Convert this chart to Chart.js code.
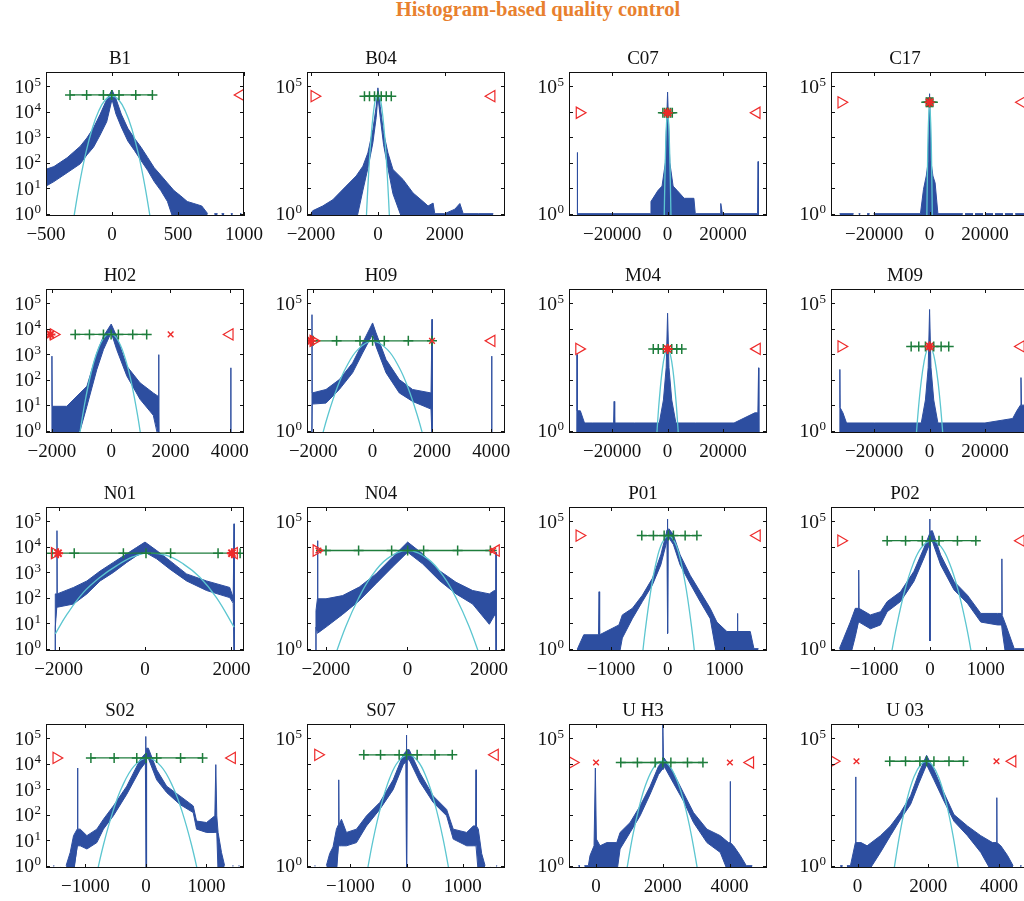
<!DOCTYPE html>
<html>
<head>
<meta charset="utf-8">
<title>Histogram-based quality control</title>
<script src="https://cdn.jsdelivr.net/npm/chart.js@4.4.1/dist/chart.umd.min.js"></script>
<style>
  body { margin: 0; background: #fff; }
  #page { position: relative; width: 1024px; height: 901px; overflow: hidden; }
  #head { position: absolute; left: 0; top: -3px; width: 1076px; text-align: center;
          font: bold 20.5px/24px 'Liberation Serif', serif; color: #e8802e; }
  canvas { position: absolute; }
</style>
</head>
<body>
<div id="page"><div id="head">Histogram-based quality control</div></div>
<script>
// zero counts can't sit on a log axis, they are drawn just under it
const FLOOR = 0.5;
const YMIN = 0.81, YMAX = 355000;

// x tick sets
const ticksB1 = [-500, 0, 500, 1000];
const ticks2k = [-2000, 0, 2000];
const ticks4k = [-2000, 0, 2000, 4000];
const ticks20k = [-20000, 0, 20000];
const ticks1k = [-1000, 0, 1000];
const ticksU = [0, 2000, 4000];

// B1
const b1X  = [-500, -440, -340, -240, -190, -140, -90, -40, 0, 30, 70, 120, 170, 220, 270, 320, 370, 420, 470, 520, 570, 620, 680, 725, 750, 775, 800, 815, 830, 850, 870, 900, 915, 940, 970, 980];
const b1Hi = [55, 70, 155, 440, 930, 2300, 7800, 30000, 70000, 32000, 8000, 2200, 900, 400, 160, 63, 32, 16, 8, 5, 3, 2.5, 2, 1, null, 1, 1, null, 1, 1, null, 1, 1, null, 1, 1];
const b1Lo = [12, 18, 40, 90, 200, 400, 1200, 4000, 30000, 8000, 2500, 700, 300, 120, 50, 18, 8, 3, 0, 0, 0, 0, 0, 0, null, 0, 0, null, 0, 0, null, 0, 0, null, 0, 0];
const b1FitX = [-300, -250, -200, -150, -100, -50, 0, 50, 100, 150, 200, 250, 300];
const b1FitY = [0.32, 11.5, 218, 2130, 10700, 29000, 40000, 29000, 10700, 2130, 218, 11.5, 0.32];
const b1Marks = [-318, -192, -65, -2, 53, 180, 306];
const b1Level = 45000;
const b1Red = [[975, '◁']];

// B04
const b04X  = [-2000, -1950, -1650, -1350, -950, -650, -450, -300, -150, -50, 0, 70, 170, 300, 450, 750, 1050, 1350, 1500, 1650, 1700, 2000, 2300, 2450, 2550, 3000, 3450];
const b04Hi = [1, 1.3, 2, 3.5, 12, 30, 72, 240, 2000, 16000, 85000, 16000, 1500, 240, 54, 22, 6.5, 3, 2, 2.6, 1, 1, 1.5, 2.5, 1, 1, 1];
const b04Lo = [0, 0, 0, 0, 0, 0, 8, 60, 600, 6000, 40000, 6000, 500, 60, 6, 0, 0, 0, 0, 0, 0, 0, 0, 0, 0, 0, 0];
const b04FitX = [-360, -340, -300, -250, -200, -150, -100, -50, 0, 50, 100, 150, 200, 250, 300, 340, 360];
const b04FitY = [0.27, 1, 11, 145, 1200, 6000, 19600, 38000, 45000, 38000, 19600, 6000, 1200, 145, 11, 1, 0.27];
const b04Marks = [-402, -252, -102, -2, 100, 250, 400];
const b04Level = 40000;
const b04Red = [[-1901, '▷'], [3400, '◁']];

// C07
const c07X  = [-32700, -32600, -32500, -6200, -6000, -3500, -2000, -800, 0, 800, 2000, 3500, 6000, 9500, 10000, 19000, 19200, 19800, 32500, 32700, 32800];
const c07Hi = [0, 250, 1, 1, 3, 8, 12, 100, 58000, 100, 12, 8, 4, 4, 1, 1, 2.5, 1, 1, 110, 0];
const c07FitX = [-1250, -1000, -700, -400, 0, 400, 700, 1000, 1250];
const c07FitY = [0.45, 16, 400, 3200, 9000, 3200, 400, 16, 0.45];
const c07Marks = [-1700, -1100, -400, 0, 400, 1100, 1700];
const c07Level = 9000;
const c07Red = [[-31800, '▷'], [0, '*'], [32200, '◁']];

// C17
const c17X  = [-32490, -27430, -26500, -25620, -25000, -23500, -22580, -21640, -21000, -20200, -3300, -2200, -1200, -500, 0, 500, 1200, 2000, 3000, 12000, 12360, 12800, 15700, 15980, 16400, 19300, 19600, 20000, 22900, 23220, 23600, 26500, 26840, 27200, 30100, 30460, 30900, 35900];
const c17Hi = [1, 1, null, 1, 1, null, 1, 1, null, 1, 1, 9, 30, 110, 50000, 110, 30, 16, 1, 1, null, 1, 1, null, 1, 1, null, 1, 1, null, 1, 1, null, 1, 1, null, 1, 1];
const c17FitX = [-1000, -800, -500, 0, 500, 800, 1000];
const c17FitY = [0.66, 29, 1700, 23000, 1700, 29, 0.66];
const c17Marks = [-1200, -800, -300, 0, 300, 800, 1200];
const c17Level = 23000;
const c17Red = [[-31900, '▷'], [0, '*'], [33400, '◁']];

// H02
const h02X  = [-2010, -2000, -1990, -1500, -1050, -820, -485, -262, 0, 185, 525, 972, 1420, 1590, 1600, 1610, 3000, 4030, 4035, 4040];
const h02Hi = [0, 830, 9, 9, 30, 55, 1100, 5000, 15000, 5000, 340, 75, 30, 22, 950, 0, null, 0, 290, 0];
const h02Lo = [0, 0, 0, 0, 1, 9, 250, 1500, 7000, 1500, 140, 17, 4, 0, 0, 0, null, 0, 0, 0];
const h02FitX = [-1100, -900, -700, -500, -250, 0, 250, 500, 700, 900, 1050];
const h02FitY = [0.39, 10.6, 145, 1000, 4300, 6300, 3100, 530, 60, 3.4, 0.25];
const h02Marks = [-1214, -733, -262, -3, 242, 726, 1197];
const h02Level = 5900;
const h02Red = [[-2050, '*'], [-1944, '▷'], [2005, '×'], [4000, '◁']];

// H09
const h09X  = [-2050, -2042, -2035, -1570, -1122, -674, -337, 0, 115, 452, 900, 1348, 1968, 2001, 2010, 3000, 4000, 4010, 4020];
const h09Hi = [0, 35000, 30, 41, 100, 450, 2750, 16600, 6800, 610, 100, 41, 30, 23000, 0, null, 0, 830, 0];
const h09Lo = [0, 0, 11, 12, 41, 185, 1100, 6000, 2000, 185, 30, 14, 7, 0, 0, null, 0, 0, 0];
const h09FitX = [-1750, -1500, -1200, -900, -500, 0, 500, 900, 1200, 1500, 1750];
const h09FitY = [0.39, 4.2, 46, 290, 1500, 3200, 1500, 290, 46, 4.2, 0.39];
const h09Marks = [-2000, -1212, -424, 0, 394, 1203, 2000];
const h09Level = 3300;
const h09Red = [[-2075, '*'], [-1998, '▷'], [2001, '×'], [4010, '◁']];

// M04
const m04X  = [-32800, -32690, -32600, -31500, -30000, -27000, -19500, -19300, -19100, -12000, -3000, -1500, -500, 0, 500, 1500, 3000, 10000, 24000, 31500, 32600, 32860, 32950];
const m04Hi = [0, 960, 6, 6, 2, 2, 2, 14, 2, 2, 2, 16, 300, 40000, 300, 16, 2, 2, 2, 5, 5, 290, 0];
const m04FitX = [-4000, -3500, -3000, -2000, -1000, 0, 1000, 2000, 3000, 3500, 4000];
const m04FitY = [0.45, 3.1, 16, 205, 950, 1600, 950, 205, 16, 3.1, 0.45];
const m04Marks = [-5170, -3360, -1550, 50, 1500, 3310, 5120];
const m04Level = 1600;
const m04Red = [[-31970, '▷'], [0, '*'], [32290, '◁']];

// M09
const m09X  = [-32500, -32400, -32300, -31300, -30000, -20000, -3000, -1500, -500, 0, 500, 1500, 3000, 20000, 30000, 31500, 32800, 33000, 33200, 35900];
const m09Hi = [0, 250, 8, 5, 2, 2, 2, 16, 300, 56000, 300, 16, 2, 2, 3, 6, 10, 120, 10, 10];
const m09FitX = [-4900, -4000, -3000, -2000, -1000, 0, 1000, 2000, 3000, 4000, 4900];
const m09FitY = [0.5, 8, 90, 500, 1400, 2000, 1400, 500, 90, 8, 0.5];
const m09Marks = [-6650, -3910, -1500, 50, 1500, 4170, 6910];
const m09Level = 2000;
const m09Red = [[-31900, '▷'], [0, '*'], [33000, '◁']];

// N01
const n01X  = [-2080, -2075, -2040, -2036, -2030, -1654, -1344, -1038, -731, -422, -192, 0, 270, 576, 961, 1423, 1960, 2040, 2055, 2060, 2065];
const n01Hi = [0, 140, 140, 42000, 140, 250, 450, 1100, 2400, 5200, 9300, 15000, 7000, 2800, 850, 450, 250, 100, 100, 78000, 0];
const n01Lo = [0, 7, 42, 42, 42, 56, 140, 450, 970, 2400, 4400, 6000, 3300, 1300, 450, 190, 100, 60, 60, 0, 0];
const n01FitX = [-2075, -1806, -1423, -1038, -653, -269, 38, 500, 884, 1269, 1653, 2060];
const n01FitY = [3.8, 22, 160, 630, 1800, 4000, 5500, 4500, 2100, 630, 100, 7];
const n01Marks = [-2150, -1637, -500, 23, 592, 1690, 2200];
const n01Level = 5500;
const n01Red = [[-2090, '▷'], [-2010, '*'], [2010, '*'], [2060, '◁']];

// N04
const n04X  = [-2245, -2240, -2205, -2200, -2195, -1995, -1588, -1179, -770, -363, 5, 372, 781, 1190, 1597, 2006, 2130, 2165, 2170, 2175];
const n04Hi = [0, 31, 90, 17000, 90, 90, 120, 260, 850, 3900, 15000, 5200, 1150, 400, 190, 140, 190, 190, 6000, 0];
const n04Lo = [0, 7, 4, 4, 4, 7, 22, 76, 350, 1600, 6000, 2100, 470, 140, 56, 9, 20, 20, 0, 0];
const n04FitX = [-1800, -1500, -1200, -900, -500, 0, 500, 900, 1200, 1500, 1800];
const n04FitY = [0.4, 8, 92, 620, 3300, 7000, 3300, 620, 92, 8, 0.4];
const n04Marks = [-1995, -1196, -387, 5, 397, 1230, 2031];
const n04Span = [-2240, 2190];
const n04Level = 7000;
const n04Red = [[-2230, '▷'], [-2180, '×'], [2100, '×'], [2170, '◁']];

// P01
const p01X  = [-1600, -1590, -1480, -1220, -1210, -1200, -860, -800, -623, -446, -270, -122, -30, -10, -5, 0, 5, 20, 100, 219, 396, 572, 749, 867, 1043, 1225, 1230, 1235, 1455, 1520, 1600];
const p01Hi = [1, 1, 3.5, 3.5, 170, 3.5, 8.5, 21, 38, 125, 570, 4700, 30000, 45000, 120000, 4, 45000, 50000, 29000, 4700, 750, 170, 38, 11, 4.7, 4.7, 24, 4.7, 4.7, 1, 1];
const p01Lo = [0, 0, 0, 0, 0, 0, 0, 2.6, 15, 70, 315, 1900, 12000, 20000, 20000, 4, 20000, 22000, 12000, 1900, 350, 70, 15, 0, 0, 0, 0, 0, 0, 0, 0];
const p01FitX = [-470, -400, -300, -200, -100, 16, 130, 230, 330, 430, 500];
const p01FitY = [0.18, 4.4, 176, 2600, 13700, 27000, 14000, 2700, 190, 4.8, 0.2];
const p01Marks = [-457, -252, -63, 12, 100, 307, 514];
const p01Level = 27000;
const p01Red = [[-1558, '▷'], [1573, '◁']];

// P02
const p02X  = [-1620, -1545, -1425, -1335, -1280, -1274, -1268, -1065, -885, -765, -526, -287, -108, -10, -4, 0, 6, 43, 192, 431, 670, 910, 1209, 1281, 1287, 1293, 1358, 1508, 1700];
const p02Hi = [1, 2.5, 11, 38, 38, 1200, 38, 21, 28, 70, 170, 1070, 8700, 30000, 120000, 2, 40000, 42000, 4700, 430, 125, 24, 24, 24, 3300, 20, 8.5, 1, 1];
const p02Lo = [0, 0, 0, 3, 11, 11, 11, 6, 8.5, 28, 70, 430, 3500, 12000, 12000, 2, 16000, 16000, 1900, 200, 60, 11, 8.5, 8.5, 8.5, 5, 0, 0, 0];
const p02FitX = [-720, -600, -450, -300, -150, 28, 200, 350, 500, 650, 770];
const p02FitY = [0.27, 7, 190, 2100, 9300, 17000, 9700, 2200, 210, 8, 0.3];
const p02Marks = [-765, -436, -136, 0, 162, 492, 821];
const p02Level = 17000;
const p02Red = [[-1590, '▷'], [1628, '◁']];

// S02
const s02X  = [-1530, -1515, -1500, -1420, -1405, -1390, -1320, -1252, -1197, -1137, -1131, -1125, -1087, -976, -812, -703, -538, -317, -98, -10, -3, 3, 10, 39, 177, 342, 561, 781, 836, 1001, 1138, 1154, 1170, 1192, 1248, 1300, 1400, 1430, 1445, 1480, 1530, 1545];
const s02Hi = [1, 1, null, 1, 1, null, 1, 3.3, 15, 27, 6700, 27, 27, 15, 27, 66, 220, 1300, 14000, 25000, 115000, 0, 40000, 40000, 5700, 1300, 540, 220, 56, 49, 90, 9100, 90, 20, 3.3, 1, null, 1, 1, null, 1, 1];
const s02Lo = [0, 0, null, 0, 0, null, 0, 0, 0, 6, 6, 6, 6, 4.5, 8, 27, 90, 630, 5700, 11000, 11000, 0, 16000, 16000, 2300, 730, 250, 120, 27, 20, 20, 20, 20, 0, 0, 0, null, 0, 0, null, 0, 0];
const s02FitX = [-830, -700, -550, -400, -200, 25, 250, 450, 600, 750, 880];
const s02FitY = [0.33, 6.9, 125, 1150, 7800, 16600, 7800, 1150, 125, 6.9, 0.33];
const s02Marks = [-910, -526, -152, 1, 177, 572, 935];
const s02Level = 16600;
const s02Red = [[-1482, '▷'], [1423, '◁']];

// S07
const s07X  = [-1640, -1625, -1610, -1560, -1545, -1500, -1430, -1370, -1311, -1250, -1215, -1209, -1203, -1161, -1072, -893, -714, -477, -239, -60, -10, -3, 3, 10, 47, 238, 475, 714, 832, 1072, 1190, 1232, 1238, 1244, 1279, 1339, 1400, 1450, 1490, 1505, 1540, 1600, 1615];
const s07Hi = [1, 1, null, 1, 1, null, 1, 3, 5.4, 27, 40, 2300, 40, 66, 20, 27, 90, 300, 2300, 22000, 30000, 130000, 0, 35000, 35000, 4300, 540, 160, 27, 20, 36, 36, 5700, 36, 27, 3, 1, null, 1, 1, null, 1, 1];
const s07Lo = [0, 0, null, 0, 0, null, 0, 0, 0, 0, 6, 6, 6, 6, 6, 8, 36, 160, 950, 9000, 12000, 12000, 0, 14000, 14000, 1900, 300, 90, 11, 6, 6, 6, 6, 6, 0, 0, 0, null, 0, 0, null, 0, 0];
const s07FitX = [-730, -600, -450, -300, -150, 29, 200, 350, 500, 650, 790];
const s07FitY = [0.27, 9.4, 245, 2700, 12000, 22000, 12600, 2950, 290, 11.5, 0.26];
const s07Marks = [-762, -464, -132, 0, 189, 506, 815];
const s07Level = 22000;
const s07Red = [[-1579, '▷'], [1577, '◁']];

// U H3
const uh3X  = [-530, -480, -450, -350, -300, -230, -180, -60, -21, 10, 120, 321, 621, 720, 1020, 1320, 1620, 1870, 1980, 2000, 2020, 2040, 2319, 2619, 2919, 3321, 3720, 3969, 4015, 4020, 4025, 4119, 4320, 4500, 4680];
const uh3Hi = [1, 1, null, 1, 1, 1, 2.5, 6, 6700, 11, 6, 8, 8, 20, 49, 220, 1300, 7800, 12000, 340000, 14000, 16600, 4300, 710, 120, 27, 15, 8, 8, 2000, 8, 6, 2.5, 1, 1];
const uh3Lo = [0, 0, null, 0, 0, 0, 0, 0, 0, 0, 0, 0, 0, 4.5, 20, 90, 630, 3700, 6000, 6000, 6000, 7800, 1700, 340, 49, 8, 3.3, 0, 0, 0, 0, 0, 0, 0, 0];
const uh3FitX = [900, 1100, 1300, 1500, 1750, 1980, 2200, 2450, 2650, 2850, 3060];
const uh3FitY = [0.49, 15, 220, 1650, 7800, 12300, 8100, 1800, 250, 17, 0.49];
const uh3Marks = [741, 1239, 1770, 2001, 2241, 2739, 3201];
const uh3Level = 11000;
const uh3Red = [[-699, '▷'], [0, '×'], [4009, '×'], [4620, '◁']];

// U 03
const u03X  = [-490, -420, -380, -300, -200, -60, -52, -45, 100, 271, 649, 932, 1216, 1500, 1735, 1954, 2161, 2445, 2728, 3108, 3486, 3818, 3935, 3940, 3945, 4053, 4243, 4400, 4440, 4600, 4640];
const u03Hi = [1, 1, null, 1, 1, 8, 3000, 8, 8, 6, 15, 36, 120, 540, 4300, 21000, 5700, 710, 100, 36, 15, 8, 8, 460, 8, 6, 2.5, 1, null, 1, 1];
const u03Lo = [0, 0, null, 0, 0, 0, 0, 0, 0, 0, 3.3, 15, 66, 250, 1700, 9000, 2300, 340, 55, 15, 3.3, 0, 0, 0, 0, 0, 0, 0, null, 0, 0];
const u03FitX = [1000, 1200, 1400, 1600, 1800, 1944, 2100, 2300, 2500, 2700, 2890];
const u03FitY = [0.37, 19, 390, 3100, 9600, 12300, 9300, 2800, 330, 15.5, 0.36];
const u03Marks = [912, 1358, 1764, 1954, 2161, 2587, 2996];
const u03Level = 12300;
const u03Red = [[-676, '▷'], [-30, '×'], [3930, '×'], [4385, '◁']];

const panels = [
  { name: 'B1',   x: b1X,  hi: b1Hi,  lo: b1Lo,  fitX: b1FitX,  fitY: b1FitY,  marks: b1Marks,  level: b1Level,  red: b1Red,  range: [-500, 1000],    ticks: ticksB1 },
  { name: 'B04',  x: b04X, hi: b04Hi, lo: b04Lo, fitX: b04FitX, fitY: b04FitY, marks: b04Marks, level: b04Level, red: b04Red, range: [-2120, 3800],   ticks: ticks2k },
  { name: 'C07',  x: c07X, hi: c07Hi,            fitX: c07FitX, fitY: c07FitY, marks: c07Marks, level: c07Level, red: c07Red, range: [-35600, 35900], ticks: ticks20k },
  { name: 'C17',  x: c17X, hi: c17Hi,            fitX: c17FitX, fitY: c17FitY, marks: c17Marks, level: c17Level, red: c17Red, range: [-35600, 35900], ticks: ticks20k },
  { name: 'H02',  x: h02X, hi: h02Hi, lo: h02Lo, fitX: h02FitX, fitY: h02FitY, marks: h02Marks, level: h02Level, red: h02Red, range: [-2200, 4480],   ticks: ticks4k },
  { name: 'H09',  x: h09X, hi: h09Hi, lo: h09Lo, fitX: h09FitX, fitY: h09FitY, marks: h09Marks, level: h09Level, red: h09Red, range: [-2210, 4460],   ticks: ticks4k },
  { name: 'M04',  x: m04X, hi: m04Hi,            fitX: m04FitX, fitY: m04FitY, marks: m04Marks, level: m04Level, red: m04Red, range: [-35600, 35900], ticks: ticks20k },
  { name: 'M09',  x: m09X, hi: m09Hi,            fitX: m09FitX, fitY: m09FitY, marks: m09Marks, level: m09Level, red: m09Red, range: [-35600, 35900], ticks: ticks20k },
  { name: 'N01',  x: n01X, hi: n01Hi, lo: n01Lo, fitX: n01FitX, fitY: n01FitY, marks: n01Marks, level: n01Level, red: n01Red, range: [-2290, 2290],   ticks: ticks2k },
  { name: 'N04',  x: n04X, hi: n04Hi, lo: n04Lo, fitX: n04FitX, fitY: n04FitY, marks: n04Marks, level: n04Level, red: n04Red, range: [-2460, 2390],   ticks: ticks2k, span: n04Span },
  { name: 'P01',  x: p01X, hi: p01Hi, lo: p01Lo, fitX: p01FitX, fitY: p01FitY, marks: p01Marks, level: p01Level, red: p01Red, range: [-1740, 1750],   ticks: ticks1k },
  { name: 'P02',  x: p02X, hi: p02Hi, lo: p02Lo, fitX: p02FitX, fitY: p02FitY, marks: p02Marks, level: p02Level, red: p02Red, range: [-1770, 1772],   ticks: ticks1k },
  { name: 'S02',  x: s02X, hi: s02Hi, lo: s02Lo, fitX: s02FitX, fitY: s02FitY, marks: s02Marks, level: s02Level, red: s02Red, range: [-1652, 1620],   ticks: ticks1k },
  { name: 'S07',  x: s07X, hi: s07Hi, lo: s07Lo, fitX: s07FitX, fitY: s07FitY, marks: s07Marks, level: s07Level, red: s07Red, range: [-1775, 1755],   ticks: ticks1k },
  { name: 'U H3', x: uh3X, hi: uh3Hi, lo: uh3Lo, fitX: uh3FitX, fitY: uh3FitY, marks: uh3Marks, level: uh3Level, red: uh3Red, range: [-810, 5120],    ticks: ticksU },
  { name: 'U 03', x: u03X, hi: u03Hi, lo: u03Lo, fitX: u03FitX, fitY: u03FitY, marks: u03Marks, level: u03Level, red: u03Red, range: [-750, 4850],    ticks: ticksU }
];

const BLUE = '#2d4ea0', CYAN = '#5cc6d0', GREEN = '#1e7d3c', RED = '#ee2a2a', INK = '#111';
const SERIF = "'Liberation Serif', 'DejaVu Serif', serif";
const decades = [0, 1, 2, 3, 4, 5];

// page layout of the plot boxes
const colLeft = [46, 307, 569, 831];
const rowTop = [72, 289, 507, 724];
const plotW = 198, plotH = 144;
const AXW = 50, AXH = 35, TOPH = 35, RPAD = 28;

const pts = (xs, ys) => xs.map((x, i) => ({ x, y: ys[i] === null ? null : (ys[i] === 0 ? FLOOR : ys[i]) }));
const fmt = v => (v < 0 ? '\u2212' + Math.abs(v) : String(v));

const redStyle = {
  '▷': { pointStyle: 'triangle', pointRotation: 90, pointRadius: 6.5, pointBorderWidth: 1.2 },
  '◁': { pointStyle: 'triangle', pointRotation: -90, pointRadius: 6.5, pointBorderWidth: 1.2 },
  '×': { pointStyle: 'crossRot', pointRotation: 0, pointRadius: 4, pointBorderWidth: 1.4 },
  '*': { pointStyle: 'star', pointRotation: 0, pointRadius: 5, pointBorderWidth: 2 }
};

// box, inward ticks and the 10^n labels (matlab style)
const framePlugin = {
  id: 'frame',
  afterDraw(chart, args, opts) {
    const { ctx, chartArea: a, scales: { x, y } } = chart;
    ctx.save();
    ctx.strokeStyle = INK;
    ctx.lineWidth = 1;
    ctx.strokeRect(a.left + 0.5, a.top + 0.5, a.right - a.left - 1, a.bottom - a.top - 1);
    ctx.beginPath();
    opts.ticks.forEach(v => {
      const px = Math.round(x.getPixelForValue(v)) + 0.5;
      ctx.moveTo(px, a.bottom); ctx.lineTo(px, a.bottom - 4);
      ctx.moveTo(px, a.top); ctx.lineTo(px, a.top + 4);
    });
    decades.forEach(e => {
      const py = Math.round(y.getPixelForValue(Math.pow(10, e))) + 0.5;
      ctx.moveTo(a.left, py); ctx.lineTo(a.left + 4, py);
      ctx.moveTo(a.right, py); ctx.lineTo(a.right - 4, py);
    });
    ctx.stroke();
    ctx.fillStyle = INK;
    ctx.textAlign = 'right';
    ctx.textBaseline = 'alphabetic';
    opts.yLab.forEach(e => {
      const py = y.getPixelForValue(Math.pow(10, e));
      ctx.font = '13px ' + SERIF;
      const exp = String(e);
      ctx.fillText(exp, a.left - 5, py - 0.5);
      const ew = ctx.measureText(exp).width;
      ctx.font = '19.5px ' + SERIF;
      ctx.fillText('10', a.left - 5.5 - ew, py + 6.5);
    });
    ctx.restore();
  }
};

const page = document.getElementById('page');

panels.forEach((p, i) => {
  const col = i % 4, row = Math.floor(i / 4);
  const w = AXW + plotW + RPAD, h = TOPH + plotH + AXH;
  const cv = document.createElement('canvas');
  cv.width = w; cv.height = h;
  cv.style.left = (colLeft[col] - AXW) + 'px';
  cv.style.top = (rowTop[row] - TOPH) + 'px';
  cv.style.width = w + 'px'; cv.style.height = h + 'px';
  page.appendChild(cv);

  const ds = [];
  ds.push({ data: pts(p.x, p.hi), borderColor: BLUE, backgroundColor: BLUE, borderWidth: 1,
            fill: p.lo ? '+1' : 'start', order: 9 });
  if (p.lo) ds.push({ data: pts(p.x, p.lo), borderColor: BLUE, borderWidth: 1, fill: false, order: 9 });
  ds.push({ data: pts(p.fitX, p.fitY), borderColor: CYAN, borderWidth: 1.3, tension: 0.4, fill: false, order: 7 });
  const span = p.span || [Math.min(...p.marks), Math.max(...p.marks)];
  ds.push({ data: span.map(x => ({ x, y: p.level })), borderColor: GREEN, borderWidth: 1.3, fill: false, order: 5 });
  ds.push({ data: p.marks.map(x => ({ x, y: p.level })), showLine: false, pointStyle: 'cross', pointRadius: 5,
            pointBorderColor: GREEN, pointBorderWidth: 1.5, order: 4 });
  p.red.forEach(([x, k]) => {
    ds.push(Object.assign({ data: [{ x, y: p.level }], showLine: false, pointBorderColor: RED,
                            pointBackgroundColor: 'rgba(0,0,0,0)', order: 1 }, redStyle[k]));
  });

  new Chart(cv, {
    type: 'line',
    data: { datasets: ds },
    options: {
      responsive: false,
      animation: false,
      events: [],
      layout: { padding: { left: 0, right: RPAD, top: 0, bottom: 0 } },
      elements: { point: { radius: 0 }, line: { tension: 0, capBezierPoints: false } },
      plugins: {
        legend: { display: false },
        tooltip: { enabled: false },
        title: { display: true, text: p.name, color: INK,
                 font: { family: SERIF, size: 19, weight: 'normal', lineHeight: 1.2 },
                 padding: { top: 11, bottom: 1.2 } },
        frame: { ticks: p.ticks, yLab: col === 0 ? decades : [0, 5] }
      },
      scales: {
        x: {
          type: 'linear', min: p.range[0], max: p.range[1], bounds: 'data',
          grid: { display: false, drawTicks: false }, border: { display: false },
          ticks: { autoSkip: false, maxRotation: 0, minRotation: 0, padding: 8, color: INK,
                   font: { family: SERIF, size: 19 }, callback: v => fmt(v) },
          afterBuildTicks: s => { s.ticks = p.ticks.map(v => ({ value: v })); },
          afterFit: s => { s.height = AXH; }
        },
        y: {
          type: 'logarithmic', min: YMIN, max: YMAX, bounds: 'data',
          grid: { display: false, drawTicks: false }, border: { display: false },
          ticks: { display: false },
          afterBuildTicks: s => { s.ticks = decades.map(e => ({ value: Math.pow(10, e) })); },
          afterFit: s => { s.width = AXW; }
        }
      }
    },
    plugins: [framePlugin]
  });
});
</script>
</body>
</html>
